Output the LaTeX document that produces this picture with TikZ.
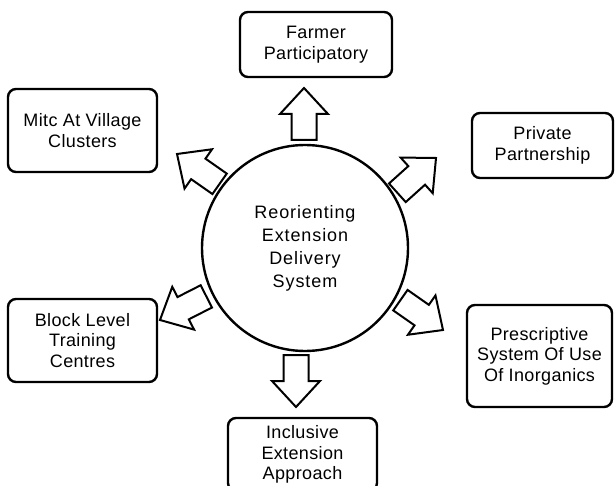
\documentclass[tikz,border=0pt]{standalone}
\usepackage{fontspec}
\setmainfont[LetterSpace=2]{Liberation Sans}
\newfontfamily\hubfont[LetterSpace=5]{Liberation Sans}
\tikzset{
  box/.style={draw, line width=2.4pt, rounded corners=8pt, align=center,
    inner sep=0pt, font=\fontsize{18}{20.5}\selectfont},
  hub/.style={draw, circle, line width=2.4pt, minimum size=206pt, inner sep=0pt,
    align=center, font=\hubfont\fontsize{18}{23}\selectfont},
  barrow/.style={draw, line width=2pt, fill=white, line join=miter}
}
\newcommand\blockarrow[3]{%
  \draw[barrow, shift={(#1,#2)}, rotate=#3]
    (0,0) -- (-26,24) -- (-26,12.5) -- (-52,12.5) -- (-52,-12.5)
    -- (-26,-12.5) -- (-26,-24) -- cycle;}
\begin{document}
\begin{tikzpicture}[x=1pt,y=1pt]
  \useasboundingbox (0,0) rectangle (615,485);
  \node[hub] (hub) at (305,237) {Reorienting\\Extension\\Delivery\\System};
  \node[box, minimum width=152pt, minimum height=65pt] (farmer) at (316,440.5) {Farmer\\Participatory};
  \node[box, minimum width=149pt, minimum height=83pt] (mitc) at (82.5,354.5) {Mitc At Village\\Clusters};
  \node[box, minimum width=141pt, minimum height=65pt] (private) at (542.5,339.5) {Private\\Partnership};
  \node[box, minimum width=149pt, minimum height=83pt] (block) at (82.5,144.5) {Block Level\\Training\\Centres};
  \node[box, minimum width=145pt, minimum height=102pt] (presc) at (539.5,129) {Prescriptive\\System Of Use\\Of Inorganics};
  \node[box, minimum width=149pt, minimum height=73pt] (incl) at (302.5,30.5) {Inclusive\\Extension\\Approach};
  \blockarrow{304}{397}{90}
  \blockarrow{296}{78}{-90}
  \blockarrow{177}{331}{145}
  \blockarrow{436}{327}{42}
  \blockarrow{160}{165}{207}
  \blockarrow{443}{155}{-35}
\end{tikzpicture}
\end{document}
